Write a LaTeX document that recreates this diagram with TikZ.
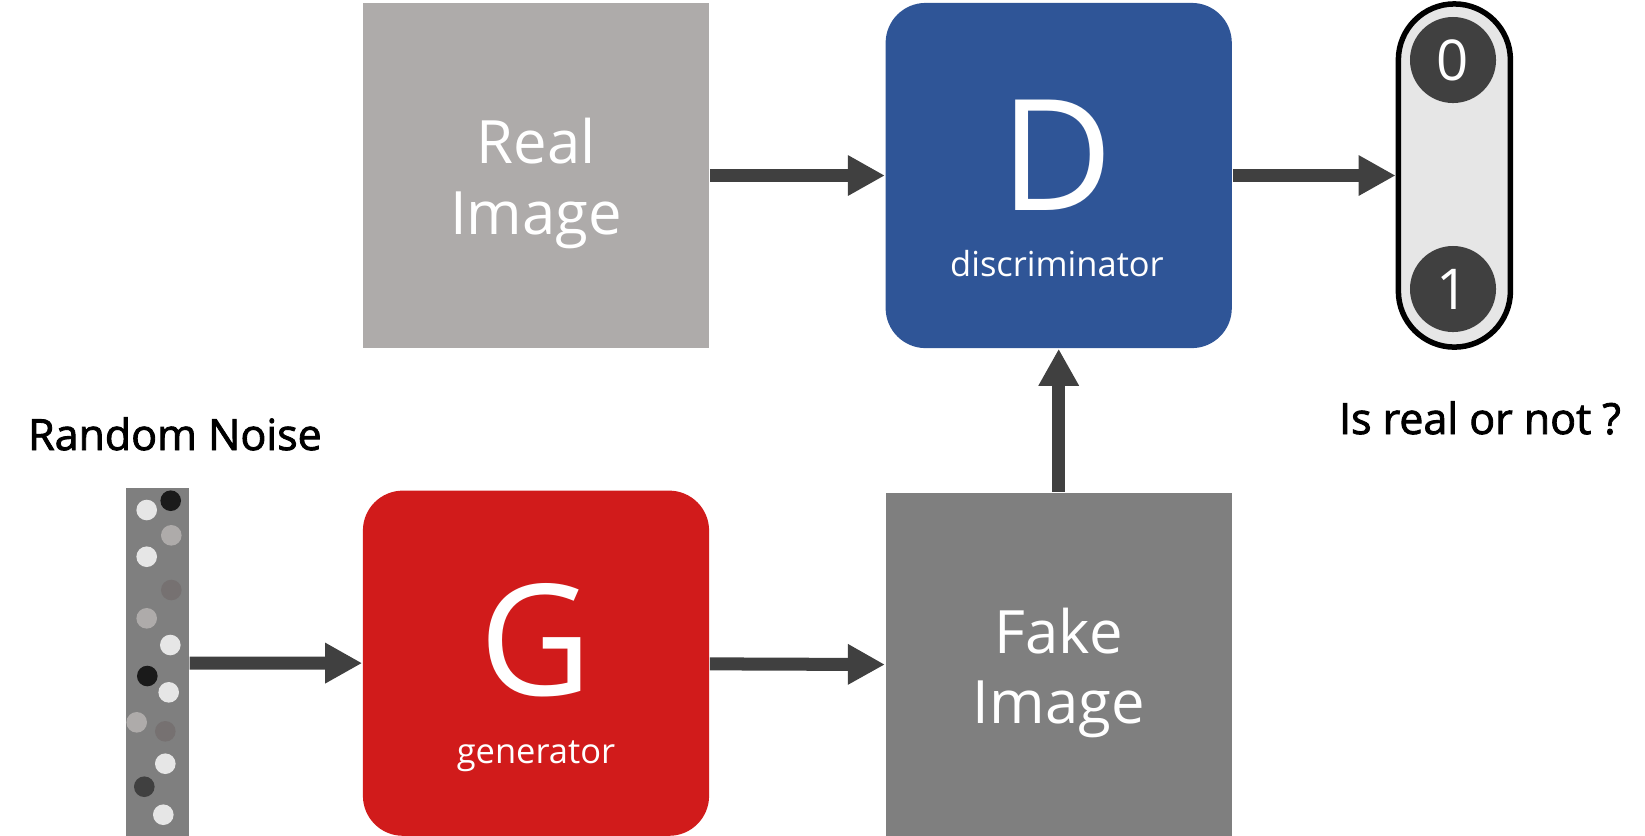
\documentclass[tikz,border=0pt]{standalone}
\usepackage{fontspec}
\setmainfont{Open Sans}
\newfontfamily\captionfont[FakeBold=2]{Open Sans}
\usetikzlibrary{positioning,arrows.meta}

\definecolor{realGray}{HTML}{AEABAA}
\definecolor{fakeGray}{HTML}{7F7F7F}
\definecolor{discBlue}{HTML}{2F5597}
\definecolor{genRed}{HTML}{D11B1B}
\definecolor{arrowGray}{HTML}{404040}
\definecolor{capsuleFill}{HTML}{E6E6E6}
\definecolor{dotLight}{HTML}{E6E6E6}
\definecolor{dotMid}{HTML}{AEABAA}
\definecolor{dotDark}{HTML}{767171}
\definecolor{dotBlack}{HTML}{1A1A1A}

\begin{document}
\begin{tikzpicture}[x=0.01cm, y=-0.01cm, >={Triangle[length=0.37cm,width=0.38cm]}]

    \useasboundingbox (0,0) rectangle (1645,835);

    %
    % Styles for blocks, dots and arrows
    %
    \tikzstyle{blockName} = [align=center, text=white, inner sep=0pt, font={\fontsize{17}{20}\selectfont}]
    \tikzstyle{block} = [rectangle, inner sep=0pt, minimum width=3.46cm, minimum height=3.45cm]
    \tikzstyle{netBlock} = [block, rounded corners=0.4cm]
    \tikzstyle{bigLetter} = [text=white, anchor=base, inner sep=0pt, font={\fontsize{44}{50}\selectfont}]
    \tikzstyle{smallName} = [text=white, anchor=base, inner sep=0pt, font={\fontsize{9.8}{12}\selectfont}]
    \tikzstyle{dot} = [circle, inner sep=0pt, minimum size=0.206cm]
    \tikzstyle{digit} = [circle, fill=arrowGray, text=white, inner sep=0pt, minimum size=0.86cm,
                         font={\fontsize{16}{19}\selectfont}]
    \tikzstyle{caption} = [anchor=base, inner sep=0pt, font={\captionfont\fontsize{12.2}{14}\selectfont}]
    \tikzstyle{dataFlow} = [draw=arrowGray, line width=0.13cm, ->];

    %
    % Position blocks
    %
    \node[block, fill=realGray, name=real] at (536,175.5) {};
    \node[netBlock, fill=discBlue, name=disc, right=1.75cm of real] {};
    \node[netBlock, fill=genRed, name=gen, below=1.41cm of real] {};
    \node[block, fill=fakeGray, name=fake, below=1.43cm of disc] {};
    \node[rectangle, fill=fakeGray, inner sep=0pt, minimum width=0.63cm, minimum height=3.5cm,
          name=noise] at (157.5,663) {};
    \node[draw=black, line width=0.055cm, fill=capsuleFill, rounded corners=0.56cm, inner sep=0pt,
          minimum width=1.12cm, minimum height=3.43cm, name=out, right=1.63cm of disc] {};

    %
    % Texts
    %
    \node[blockName, name=realText] at ([yshift=-0.08cm]real.center) {Real\\Image};
    \node[blockName, name=fakeText] at ([yshift=-0.08cm]fake.center) {Fake\\Image};
    \node[bigLetter, name=dLetter] at (1057,210) {D};
    \node[smallName, name=dName] at (1057,276) {discriminator};
    \node[bigLetter, name=gLetter] at (536,695) {G};
    \node[smallName, name=gName] at (536,763) {generator};
    \node[caption, name=noiseLabel] at (175,450) {Random Noise};
    \node[caption, name=question] at (1480,434) {Is real or not ?};
    \node[digit, name=zero] at (1453,60) {0};
    \node[digit, name=one] at (1453,289) {1};

    %
    % Noise dots
    %
    \node[dot, fill=dotLight, name=dot1] at (146.7,510) {};
    \node[dot, fill=dotBlack, name=dot2] at (170.7,500.7) {};
    \node[dot, fill=dotMid, name=dot3] at (171.3,535.3) {};
    \node[dot, fill=dotLight, name=dot4] at (146.7,556.7) {};
    \node[dot, fill=dotDark, name=dot5] at (171.3,590) {};
    \node[dot, fill=dotMid, name=dot6] at (146.7,618.3) {};
    \node[dot, fill=dotLight, name=dot7] at (170.3,645) {};
    \node[dot, fill=dotBlack, name=dot8] at (147.3,676) {};
    \node[dot, fill=dotLight, name=dot9] at (168.7,692.3) {};
    \node[dot, fill=dotMid, name=dot10] at (136.7,722.3) {};
    \node[dot, fill=dotDark, name=dot11] at (165.3,731.3) {};
    \node[dot, fill=dotLight, name=dot12] at (165.3,763.7) {};
    \node[dot, fill=arrowGray, name=dot13] at (144.3,786.7) {};
    \node[dot, fill=dotLight, name=dot14] at (163.3,814.7) {};

    %
    % Connect blocks via arrows
    %
    \draw[dataFlow] (real) -- (disc);
    \draw[dataFlow] (disc) -- (out);
    \draw[dataFlow] (fake) -- (disc);
    \draw[dataFlow] (noise) -- (gen);
    \draw[dataFlow] (gen) -- (fake);
\end{tikzpicture}
\end{document}
